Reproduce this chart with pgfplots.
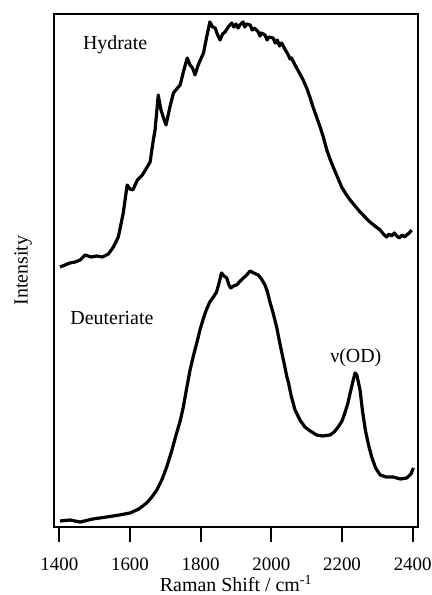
\documentclass[border=0pt]{standalone}
\usepackage{pgfplots}
\pgfplotsset{compat=1.18}
\usepackage{fontspec}
\setmainfont{Liberation Serif}

% Raman spectra, intensities in arbitrary units (offset for clarity)
\pgfplotstableread{
x I
1402 260
1416 262
1430 264
1445 265
1459 267
1473 272
1490 270
1506 271
1522 270
1539 273
1553 280
1567 290
1581 314
1592 342
1600 338
1608 337
1621 347
1635 352
1647 359
1657 365
1666 387
1671 397
1680 432
1687 418
1694 410
1702 402
1713 420
1723 434
1732 438
1742 442
1751 455
1762 469
1770 462
1777 459
1784 452
1793 462
1808 474
1817 490
1826 505
1834 500
1841 499
1848 492
1855 487
1862 493
1869 495
1878 500
1888 504
1894 500
1900 503
1906 499
1911 502
1920 505
1925 500
1930 503
1940 502
1946 497
1952 499
1963 495
1968 491
1972 494
1982 492
1988 487
1993 490
2005 489
2011 484
2017 487
2023 481
2029 484
2038 478
2048 472
2053 468
2057 469
2067 462
2078 455
2090 447
2100 439
2109 430
2118 420
2128 410
2138 400
2147 390
2157 377
2166 368
2175 360
2187 350
2199 340
2211 333
2223 327
2237 321
2251 315
2265 310
2279 305
2293 301
2308 297
2317 293
2326 290
2333 293
2340 291
2348 294
2355 291
2362 289
2370 292
2377 290
2383 292
2390 294
2397 297
}\hydrate

\pgfplotstableread{
x I
1402 6
1430 7
1459 5
1495 8
1534 10
1570 12
1600 14
1625 18
1647 24
1662 30
1676 37
1690 47
1704 60
1718 76
1732 94
1742 106
1751 120
1760 138
1770 157
1780 172
1789 184
1798 197
1808 209
1817 218
1826 225
1836 230
1845 235
1852 244
1859 254
1866 251
1874 249
1880 242
1885 239
1893 241
1902 242
1912 246
1921 249
1930 252
1940 256
1950 254
1963 252
1972 248
1982 242
1989 235
1996 225
2005 214
2015 200
2025 182
2036 164
2044 150
2048 145
2057 130
2067 117
2081 107
2095 100
2110 96
2128 92
2145 91
2166 92
2178 95
2189 100
2200 106
2208 114
2216 123
2223 134
2231 146
2237 154
2242 152
2251 137
2258 116
2266 97
2275 82
2284 70
2295 59
2308 52
2325 50
2345 50
2365 48
2383 49
2395 53
2402 59
}\deuteriate

\begin{document}
\begin{tikzpicture}
\begin{axis}[
  scale only axis,
  width=364bp, height=513bp,
  at={(0,0)}, anchor=south west,
  xmin=1385, xmax=2415,
  ymin=0, ymax=513,
  axis line style={line width=2bp},
  xtick={1400,1600,...,2400},
  xtick pos=lower,
  ytick=\empty,
  tick align=outside,
  major tick length=15bp,
  every tick/.style={line width=2bp, black},
  /pgf/number format/assume math mode=true,
  /pgf/number format/set thousands separator={},
  tick label style={font=\fontsize{19}{21}\selectfont},
  xticklabel style={yshift=-12bp},
  xlabel={Raman Shift / cm\textsuperscript{-1}},
  ylabel={Intensity},
  label style={font=\fontsize{20}{22}\selectfont},
  xlabel style={at={(axis description cs:0.5,-0.11)}, anchor=center},
  ylabel style={at={(axis description cs:-0.085,0.5)}, anchor=center},
  clip=true,
]
\addplot[black, line width=3.2bp, line join=round] table[x=x, y=I] {\hydrate};
\addplot[black, line width=3.2bp, line join=round] table[x=x, y=I] {\deuteriate};
\node[font=\fontsize{20}{22}\selectfont] at (axis cs:1558,482) {Hydrate};
\node[font=\fontsize{20}{22}\selectfont] at (axis cs:1549,209) {Deuteriate};
\node[font=\fontsize{20}{22}\selectfont] at (axis cs:2239,169) {ν(OD)};
\end{axis}
\pgfresetboundingbox
\path (-54bp,-68bp) rectangle (378bp,527bp);
\end{tikzpicture}
\end{document}
